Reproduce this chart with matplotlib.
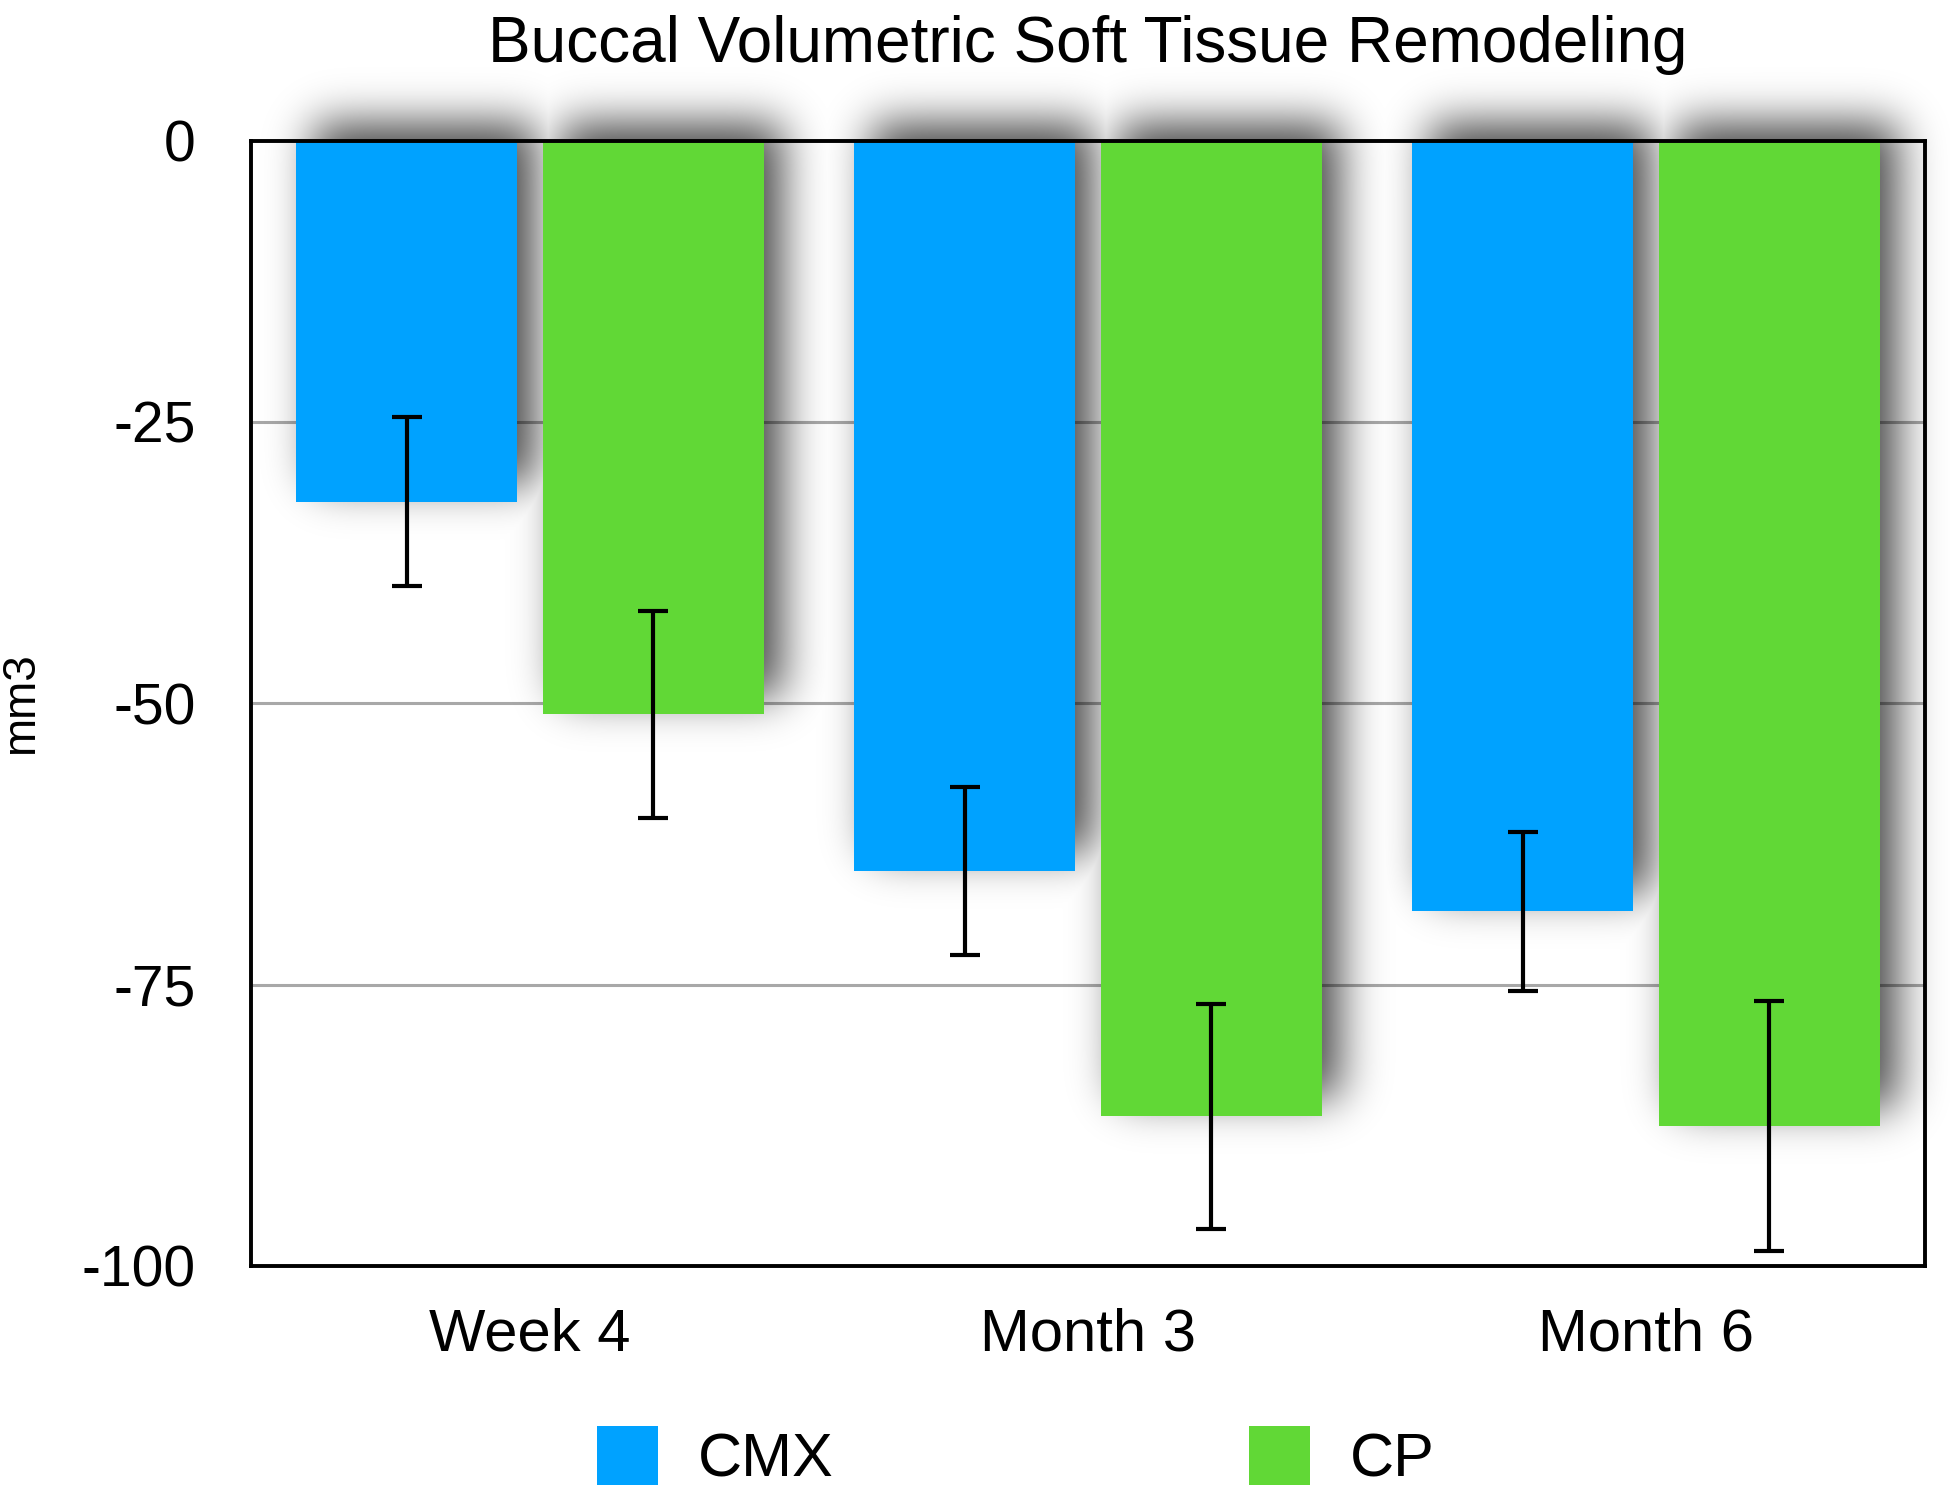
import math
import numpy as np
import matplotlib
matplotlib.use("Agg")
import matplotlib.pyplot as plt
from matplotlib.patches import Patch

plt.rcParams['font.family'] = ['Liberation Sans', 'DejaVu Sans']
plt.rcParams['axes.unicode_minus'] = False

# data
groups = ["Week 4", "Month 3", "Month 6"]
series_names = ["CMX", "CP"]
cmx_vals = [-32.1, -64.9, -68.5]
cmx_err = [7.5, 7.5, 7.1]
cp_vals = [-51.0, -86.7, -87.6]
cp_err = [9.2, 10.0, 11.1]
y_ticks = [0, -25, -50, -75, -100]
y_ticklabels = ["0", "-25", "-50", "-75", "-100"]

blue = "#00A2FF"
green = "#61D836"

W, H, DPI = 19.5, 14.98, 100
fig = plt.figure(figsize=(W, H), dpi=DPI)
ax = fig.add_axes([0.1287, 0.1549, 0.8585, 0.7513])

x = np.arange(len(groups))
bw = 0.397
off = 0.221
xlim = (-0.5, len(groups) - 0.5)
ylim = (-100, 0)

# --- soft drop shadow behind the bars (blurred rectangles) ---
ax_w_px = 0.8585 * W * DPI
ax_h_px = 0.7513 * H * DPI
px_x = (xlim[1] - xlim[0]) / ax_w_px   # data units per pixel
px_y = (ylim[1] - ylim[0]) / ax_h_px
sigma_px = 22
shift_x, shift_y = 18, 18   # pixels, right and up
peak = 0.72

sx0, sx1 = -0.62, 2.66
sy0, sy1 = -108.0, 12.0
gx = np.arange(sx0, sx1, px_x)
gy = np.arange(sy0, sy1, px_y)
erf = np.vectorize(math.erf)


def blurred_interval(g, a, b, s):
    return 0.5 * (erf((g - a) / (s * math.sqrt(2))) - erf((g - b) / (s * math.sqrt(2))))


shade = np.zeros((len(gy), len(gx)))
for centers, vals in ((x - off, cmx_vals), (x + off, cp_vals)):
    for c, v in zip(centers, vals):
        fx = blurred_interval(gx, c - bw / 2 + shift_x * px_x, c + bw / 2 + shift_x * px_x, sigma_px * px_x)
        fy = blurred_interval(gy, v + shift_y * px_y, 0 + shift_y * px_y, sigma_px * px_y)
        shade = np.maximum(shade, np.outer(fy, fx))

rgba = np.zeros((len(gy), len(gx), 4))
rgba[..., 3] = shade * peak
im = ax.imshow(rgba, extent=(gx[0], gx[-1], gy[0], gy[-1]), origin='lower',
               aspect='auto', interpolation='bilinear', zorder=0.5)
im.set_clip_on(False)

# grid lines (under the shadow)
for t in y_ticks[1:-1]:
    ax.axhline(t, color="#a8a8a8", lw=2.2, zorder=0.4)

# bars
ax.bar(x - off, cmx_vals, bw, color=blue, zorder=2)
ax.bar(x + off, cp_vals, bw, color=green, zorder=2)

# error bars
ax.errorbar(x - off, cmx_vals, yerr=cmx_err, fmt='none', ecolor='black',
            elinewidth=3.0, capsize=10.5, capthick=3.0, zorder=3, clip_on=False)
ax.errorbar(x + off, cp_vals, yerr=cp_err, fmt='none', ecolor='black',
            elinewidth=3.0, capsize=10.5, capthick=3.0, zorder=3, clip_on=False)

ax.set_xlim(*xlim)
ax.set_ylim(*ylim)

ax.set_yticks(y_ticks)
ax.set_yticklabels(y_ticklabels, fontsize=41)
ax.set_xticks(x)
ax.set_xticklabels(groups, fontsize=43)
ax.tick_params(axis='y', length=0, pad=40)
ax.tick_params(axis='x', length=0, pad=30)

for sp in ax.spines.values():
    sp.set_linewidth(2.8)
    sp.set_color('black')
    sp.set_zorder(4)

ax.set_ylabel("mm3", fontsize=33)
ax.yaxis.set_label_coords(-0.124, 0.5)

fig.suptitle("Buccal Volumetric Soft Tissue Remodeling", fontsize=46, x=0.558, y=0.99, va='top')

handles = [Patch(facecolor=blue, edgecolor='none'), Patch(facecolor=green, edgecolor='none')]
fig.legend(handles, series_names, loc='center', bbox_to_anchor=(0.521, 0.027), ncol=2,
           frameon=False, fontsize=44, handlelength=1.0, handleheight=1.1,
           handletextpad=0.65, columnspacing=6.8)

fig.savefig("out.png", dpi=DPI)
